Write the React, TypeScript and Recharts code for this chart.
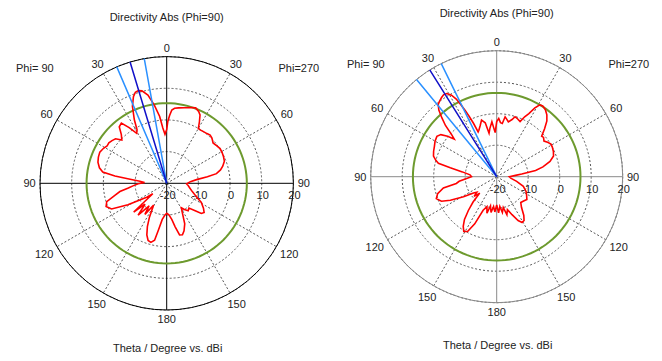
// Directivity Abs polar cuts (Phi=90), two designs side by side
import { RadarChart, Radar, PolarGrid, PolarAngleAxis, PolarRadiusAxis } from "recharts";

// theta measured from the top, counter-clockwise (Phi=90 side on the left)
const leftAngles = [0, 2, 4, 6, 9, 12, 15, 17, 19, 21, 24, 27, 29, 31, 34, 37, 40, 43, 46, 49, 52, 55, 58, 61, 65, 69, 73, 77, 80, 82, 83.5, 85.5, 88, 91, 94, 97, 100, 103, 107, 111, 115, 119, 122, 125, 127, 131, 134, 138, 142, 145, 149, 153, 156, 159, 162, 165, 168, 170, 173, 177, 180, 184, 188, 191, 194, 197, 200, 204, 208, 211, 214, 218, 222, 226, 229, 232, 236, 241, 246, 252, 258, 264, 268, 271, 274, 277, 279, 281, 284, 287, 291, 295, 299, 303, 307, 311, 315, 318, 321, 325, 328, 330, 332, 334, 336, 339, 343, 347, 351, 354, 356, 357.5, 359];
const leftGain = [-3, -4.5, -2.5, 1.2, 5, 8.5, 10.2, 10.6, 10.4, 9.3, 6.6, 2.5, -0.7, -1.6, 1.2, 3.8, 3.3, 1.0, -0.3, 1.4, 1.9, 2.3, 2.2, 2.8, 3.3, 3.1, 2.7, 1.8, 0.5, -3.5, -8, -11.5, -13, -11, -9.5, -7.8, -5, -3.2, -0.2, 0.5, -0.8, -6, -10, -12.5, -14.5, -6.2, -10.5, -6.5, -11, -8, -12, -8, -5, -2.5, -1, -0.7, -1.6, -5, -8.5, -10, -10.5, -10, -8.5, -6, -3.2, -3, -4, -6, -9.5, -11, -10, -9, -9.5, -7.5, -5.5, -5, -6, -7.5, -9.8, -11.5, -12.5, -13.2, -13.7, -13.2, -12.5, -10.5, -7, -4, -2.5, -1.5, -0.5, -0.2, 0, 0.1, -0.3, -0.6, 0.2, 0.5, 0.2, 0, -0.1, 0, 2, 4, 4.8, 5.5, 5.0, 4.5, 4.1, 3.8, 3.2, 1.5, -0.5];

const rightAngles = [0, 2, 5, 8, 10, 12, 15, 18, 21, 22.5, 23.5, 24.5, 25.5, 26.5, 27.5, 29, 31, 33, 35, 37, 39, 41, 43, 45, 47, 48.5, 50.5, 53, 56, 60, 64, 68, 72, 75, 77, 79, 82, 86, 90, 94, 97, 99.5, 102, 106, 110, 114, 117, 121, 125, 128, 131, 134, 137, 140, 143, 146, 149, 152, 155, 158, 162, 165, 168, 171, 174, 177, 180, 183, 186, 189, 192, 195, 198, 202, 206, 209, 212, 215, 219, 223, 228, 233, 238, 243, 250, 257, 264, 270, 274, 276, 279, 282, 286, 290, 294, 298, 301, 304, 307, 310, 312, 315, 318, 321, 324, 327, 329, 331, 333, 335, 337, 340, 343, 345, 348, 350, 352, 354, 356, 358];
const rightGain = [-2.5, -6, -2.5, -4.5, -6, -2.5, -1.4, -3, -4.2, -4.6, -1.5, 1, 3.5, 5.5, 7.8, 9.6, 10.8, 11, 10.6, 10.1, 9.5, 8, 5.5, 3, -0.5, -2, 0.2, 2.2, 2.9, 2.6, 2.0, 1.6, 1.1, 0, -1, -5, -9, -11.5, -12, -10, -8, -7, -2.7, -0.5, 0.4, -0.8, -3.5, -7.7, -11, -12, -10.5, -12.5, -9, -6, -3, -1, 0.3, -0.3, -3.5, -8.5, -10, -8, -10.5, -8.5, -10.5, -8.8, -11, -8.5, -10.5, -8.5, -10, -7.5, -9, -7, -4.5, -3.4, -3.6, -5, -7.5, -8.8, -8.5, -8, -8.8, -9.5, -11, -13.5, -15.5, -16, -14, -12, -7.5, -5, -2.4, -0.8, -0.3, 0, 0.1, -0.5, -1.2, -0.6, -0.8, 1.5, 3.8, 5.3, 6.3, 6.8, 6.6, 5, 2.5, 1.0, -1, -0.5, -0.1, -1.2, -2.2, -1.5, -0.8, -3, -2.8, -1.5];

// reference level circle (dBi)
const leftRing = 5.3;
const rightRing = 6.6;

// main beam direction and beam edges (theta, deg)
const leftBeam = 16.8;
const leftEdges = [10.2, 23.2];
const rightBeam = 32.1;
const rightEdges = [26.1, 39.5];

const angleTicks = [0, 30, 60, 90, 120, 150, 180, 210, 240, 270, 300, 330];
const radiusTicks = [-20, -10, 0, 10, 20];
const ringAngles = Array.from({ length: 120 }, (_, i) => i * 3);

const font = "'Liberation Sans', Arial, sans-serif";
const W = 331;
const H = 361;

const thetaLabel = (v: number) => String(v <= 180 ? v : 360 - v);

const AngleTick = (props: any) => {
  const { x, y, payload } = props;
  const rad = (payload.coordinate * Math.PI) / 180;
  const ux = Math.cos(rad);
  const uy = -Math.sin(rad);
  const label = thetaLabel(payload.value);
  const off = 1 + Math.abs(ux) * label.length * 3.2 + Math.abs(uy) * 5;
  return (
    <text x={x + ux * off} y={y + uy * off} textAnchor="middle" dominantBaseline="central" fontSize={11} fontFamily={font} fill="#222">
      {label}
    </text>
  );
};

const RadiusTick = (props: any) => {
  const { x, y, payload } = props;
  return (
    <text x={x + 1} y={y + 12} textAnchor="middle" dominantBaseline="central" fontSize={11} fontFamily={font} fill="#222">
      {payload.value}
    </text>
  );
};

type Geo = { cx: number; cy: number; r: number };

// one transparent polar layer; every layer shares the same geometry and scales
function Layer({ geo, data, children, showAxes = false }: { geo: Geo; data: any[]; children: any; showAxes?: boolean }) {
  return (
    <div style={{ position: "absolute", left: 0, top: 0 }}>
      <RadarChart width={W} height={H} data={data} cx={geo.cx} cy={geo.cy} outerRadius={geo.r} innerRadius={0}
        startAngle={90} endAngle={450} margin={{ top: 0, right: 0, bottom: 0, left: 0 }}>
        <PolarAngleAxis dataKey="a" type="number" scale="linear" domain={[0, 360]} ticks={angleTicks}
          tick={showAxes ? AngleTick : false} tickSize={3} axisLine={false} tickLine={false} />
        <PolarRadiusAxis angle={0} type="number" domain={[-20, 20]} ticks={radiusTicks}
          tick={showAxes ? RadiusTick : false} axisLine={false} tickLine={false} />
        {children}
      </RadarChart>
    </div>
  );
}

function PolarPlot(p: { angles: number[]; gains: number[]; ring: number; beam: number; edges: number[]; geo: Geo; axisColor: string; top: number; left: number }) {
  const ringRows = ringAngles.map((a) => ({ a, ring: p.ring }));
  const gainRows = p.angles.map((a, i) => ({ a, gain: p.gains[i] }));
  const beamRows = [{ a: p.beam, v: -20 }, { a: p.beam, v: 20 }];
  const edgeRows = p.edges.flatMap((a) => [{ a, v: -20 }, { a, v: 20 }]);
  const label = { position: "absolute" as const, fontFamily: font, fontSize: 11, color: "#222", whiteSpace: "nowrap" as const };
  const { cx } = p.geo;
  return (
    <div style={{ position: "absolute", left: p.left, top: 0, width: W, height: H }}>
      <Layer geo={p.geo} data={ringRows} showAxes>
        <PolarGrid gridType="circle" stroke="#555" strokeDasharray="2 2" polarAngles={[30, 60, 120, 150, 210, 240, 300, 330]} />
        <PolarGrid gridType="circle" stroke={p.axisColor} polarAngles={[0, 90, 180, 270]} polarRadius={[p.geo.r]} />
        <Radar dataKey="ring" stroke="#6d9a2e" strokeWidth={2} fill="none" fillOpacity={0} isAnimationActive={false} />
      </Layer>
      <Layer geo={p.geo} data={gainRows}>
        <Radar dataKey="gain" stroke="#ff0000" strokeWidth={1.6} fill="none" fillOpacity={0} isAnimationActive={false} />
      </Layer>
      <Layer geo={p.geo} data={edgeRows}>
        <Radar dataKey="v" stroke="#2a90ff" strokeWidth={1.5} fill="none" fillOpacity={0} isAnimationActive={false} />
      </Layer>
      <Layer geo={p.geo} data={beamRows}>
        <Radar dataKey="v" stroke="#1010c8" strokeWidth={1.5} fill="none" fillOpacity={0} isAnimationActive={false} />
      </Layer>
      <div style={{ ...label, left: cx, top: p.top, transform: "translate(-50%, -50%)" }}>Directivity Abs (Phi=90)</div>
      <div style={{ ...label, left: 16, top: p.top + 51, transform: "translate(0, -50%)" }}>Phi= 90</div>
      <div style={{ ...label, right: W - (cx + 152.5), top: p.top + 51, transform: "translate(0, -50%)" }}>Phi=270</div>
      <div style={{ ...label, left: cx + 1, top: p.top + 331.5, transform: "translate(-50%, -50%)" }}>Theta / Degree vs. dBi</div>
    </div>
  );
}

export default function App() {
  return (
    <div style={{ position: "absolute", left: 0, top: 0, width: 662, height: 361, background: "#fff", overflow: "hidden" }}>
      <PolarPlot angles={leftAngles} gains={leftGain} ring={leftRing} beam={leftBeam} edges={leftEdges}
        geo={{ cx: 166.7, cy: 183.3, r: 126.7 }} axisColor="#000" top={16.7} left={0} />
      <PolarPlot angles={rightAngles} gains={rightGain} ring={rightRing} beam={rightBeam} edges={rightEdges}
        geo={{ cx: 165.7, cy: 176.7, r: 126 }} axisColor="#8a8a8a" top={13.3} left={331} />
    </div>
  );
}
